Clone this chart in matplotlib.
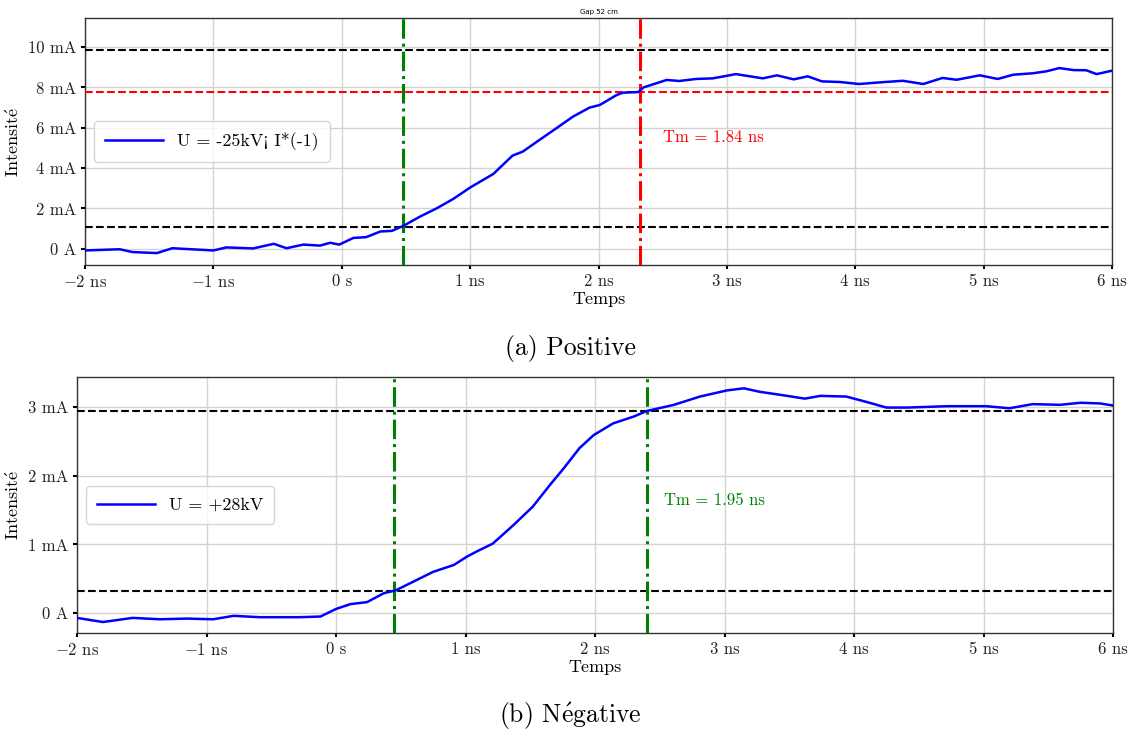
import matplotlib
matplotlib.use("Agg")
import matplotlib.pyplot as plt

# ── Style ──────────────────────────────────────────────────────────────────
plt.rcParams.update({
    "font.family": ["cmr10", "DejaVu Serif"],
    "mathtext.fontset": "cm",
    "axes.unicode_minus": False,
    "axes.edgecolor": "#333333",
    "axes.linewidth": 1.0,
    "grid.color": "#d3d3d3",
    "grid.linewidth": 1.0,
})

# ── Data ──────────────────────────────────────────────────────────────────
# (a) Positive : U = -25 kV, current multiplied by -1
pos_t = [-2.0, -1.73, -1.63, -1.44, -1.32, -1.0, -0.90, -0.69, -0.53, -0.43,
         -0.30, -0.17, -0.09, -0.02, 0.09, 0.19, 0.30, 0.39, 0.48, 0.61,
         0.74, 0.87, 1.0, 1.18, 1.33, 1.41, 1.52, 1.67, 1.80, 1.93,
         2.01, 2.14, 2.19, 2.31, 2.35, 2.53, 2.63, 2.76, 2.89, 3.07,
         3.28, 3.39, 3.52, 3.63, 3.74, 3.88, 4.03, 4.19, 4.37, 4.53,
         4.68, 4.79, 4.97, 5.11, 5.23, 5.38, 5.49, 5.59, 5.70, 5.80,
         5.88, 6.0]
pos_i = [-0.08, -0.02, -0.16, -0.21, 0.03, -0.08, 0.07, 0.02, 0.25, 0.03,
         0.21, 0.16, 0.30, 0.21, 0.54, 0.58, 0.86, 0.89, 1.14, 1.60,
         2.01, 2.48, 3.04, 3.71, 4.62, 4.82, 5.31, 5.97, 6.55, 7.00,
         7.13, 7.62, 7.74, 7.77, 8.00, 8.37, 8.32, 8.42, 8.45, 8.66,
         8.45, 8.60, 8.40, 8.55, 8.30, 8.27, 8.17, 8.25, 8.33, 8.17,
         8.47, 8.38, 8.60, 8.42, 8.63, 8.70, 8.80, 8.96, 8.86, 8.85,
         8.66, 8.83]
pos_levels = [1.09, 9.85]          # black dashed (10 % / 90 %)
pos_mid_level = 7.77               # red dashed
pos_start, pos_end = 0.48, 2.32    # vertical markers
pos_label = "U = -25kV< I*(-1)"    # cmr10 draws '<' as '¡', like the original
pos_tm = "Tm = 1.84 ns"

# (b) Négative : U = +28 kV
neg_t = [-2.0, -1.80, -1.57, -1.36, -1.15, -0.95, -0.79, -0.59, -0.28, -0.12,
         0.0, 0.11, 0.24, 0.37, 0.46, 0.60, 0.75, 0.91, 1.01, 1.09,
         1.21, 1.37, 1.52, 1.65, 1.76, 1.88, 1.99, 2.14, 2.30, 2.40,
         2.61, 2.81, 3.02, 3.15, 3.27, 3.45, 3.62, 3.74, 3.94, 4.10,
         4.25, 4.41, 4.72, 5.02, 5.20, 5.38, 5.59, 5.75, 5.90, 6.0]
neg_i = [-0.07, -0.13, -0.07, -0.09, -0.08, -0.09, -0.04, -0.06, -0.06, -0.05,
         0.06, 0.13, 0.16, 0.29, 0.33, 0.46, 0.60, 0.70, 0.82, 0.90,
         1.01, 1.28, 1.55, 1.86, 2.11, 2.40, 2.59, 2.76, 2.86, 2.94,
         3.03, 3.15, 3.24, 3.27, 3.22, 3.17, 3.12, 3.16, 3.15, 3.07,
         2.99, 2.99, 3.01, 3.01, 2.98, 3.04, 3.03, 3.06, 3.05, 3.02]
neg_levels = [0.32, 2.94]
neg_start, neg_end = 0.45, 2.40
neg_label = "U = +28kV"
neg_tm = "Tm = 1.95 ns"

x_ticks = [-2, -1, 0, 1, 2, 3, 4, 5, 6]
x_tick_labels = [r"$-2$ ns", r"$-1$ ns", "0 s", "1 ns", "2 ns", "3 ns",
                 "4 ns", "5 ns", "6 ns"]
pos_y_ticks = [0, 2, 4, 6, 8, 10]
pos_y_tick_labels = ["0 A", "2 mA", "4 mA", "6 mA", "8 mA", "10 mA"]
neg_y_ticks = [0, 1, 2, 3]
neg_y_tick_labels = ["0 A", "1 mA", "2 mA", "3 mA"]

y_title = r"Intensit$\acute{\mathrm{e}}$"
x_title = "Temps"
caption_a = "(a) Positive"
caption_b = r"(b) N$\acute{\mathrm{e}}$gative"

GREEN = "#008000"
RED = "#ff0000"


def style_axes(ax, yticks, ylabels, ylim):
    ax.set_xlim(-2, 6)
    ax.set_ylim(*ylim)
    ax.set_xticks(x_ticks)
    ax.set_xticklabels(x_tick_labels)
    ax.set_yticks(yticks)
    ax.set_yticklabels(ylabels)
    ax.tick_params(labelsize=12, length=3, width=1.5, colors="black",
                   labelcolor="#222222")
    ax.grid(True, zorder=0)
    ax.set_xlabel(x_title, fontsize=13, labelpad=1)
    ax.set_ylabel(y_title, fontsize=13, labelpad=4)


fig = plt.figure(figsize=(11.31, 7.33), dpi=100)

# ── (a) Positive ──
ax1 = fig.add_axes([0.0752, 0.6385, 0.908, 0.3369])
ax1.plot(pos_t, pos_i, color="blue", linewidth=1.8, label=pos_label, zorder=5)
for lvl in pos_levels:
    ax1.axhline(lvl, color="black", linestyle="--", linewidth=1.5, zorder=3)
ax1.axhline(pos_mid_level, color=RED, linestyle="--", linewidth=1.5, zorder=3)
ax1.axvline(pos_start, color=GREEN, linestyle="-.", linewidth=2.2, zorder=3)
ax1.axvline(pos_end, color=RED, linestyle="-.", linewidth=2.2, zorder=3)
ax1.text(2.5, 5.54, pos_tm, color=RED, fontsize=12, va="center")
style_axes(ax1, pos_y_ticks, pos_y_tick_labels, (-0.8, 11.44))
ax1.set_title("Gap 52 cm", fontsize=5, family="DejaVu Sans", pad=3)
ax1.legend(loc="center left", fontsize=13, handlelength=3.2,
           borderpad=0.6, fancybox=True)

# ── (b) Négative ──
ax2 = fig.add_axes([0.0681, 0.1364, 0.916, 0.3493])
ax2.plot(neg_t, neg_i, color="blue", linewidth=1.8, label=neg_label, zorder=5)
for lvl in neg_levels:
    ax2.axhline(lvl, color="black", linestyle="--", linewidth=1.5, zorder=3)
ax2.axvline(neg_start, color=GREEN, linestyle="-.", linewidth=2.2, zorder=3)
ax2.axvline(neg_end, color=GREEN, linestyle="-.", linewidth=2.2, zorder=3)
ax2.text(2.53, 1.64, neg_tm, color=GREEN, fontsize=12, va="center")
style_axes(ax2, neg_y_ticks, neg_y_tick_labels, (-0.29, 3.435))
ax2.legend(loc="center left", fontsize=13, handlelength=3.2,
           borderpad=0.6, fancybox=True)

# captions
fig.text(0.504, 0.524, caption_a, ha="center", va="center", fontsize=18.5)
fig.text(0.504, 0.023, caption_b, ha="center", va="center", fontsize=18.5)

fig.savefig("out.png", dpi=100)
